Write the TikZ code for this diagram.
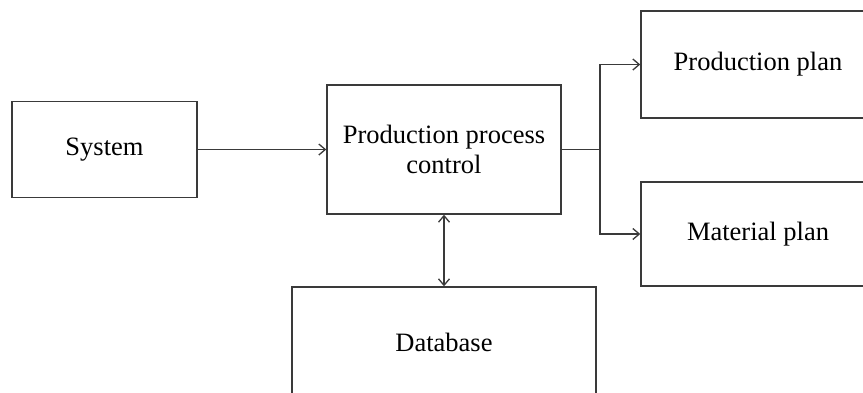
\documentclass[tikz,border=0pt]{standalone}
\usepackage{fontspec}
\setmainfont{Liberation Serif}
\usetikzlibrary{arrows.meta}
\definecolor{edge}{HTML}{3A3A3A}
\tikzset{
  box/.style={draw=edge, line width=1.4pt, fill=white, inner sep=0pt,
              align=center, font=\fontsize{26.5}{30}\selectfont},
  link/.style={draw=edge, line width=1.4pt},
  >={Straight Barb[length=6.5pt,width=11pt,line width=1.3pt]}
}
\begin{document}
\begin{tikzpicture}[x=1pt,y=-1pt]
  \useasboundingbox (0,0) rectangle (863,392);
  \fill[white] (0,0) rectangle (863,392);
  \clip (0,0) rectangle (863,392);

  % blocks
  \node[box, minimum width=185pt, minimum height=96pt]  (sys) at (104.5,149.5) {System};
  \node[box, minimum width=234pt, minimum height=129pt] (ppc) at (444,149.5)   {Production process\\control};
  \node[box, minimum width=234pt, minimum height=107pt] (pp)  at (758,64.5)    {Production plan};
  \node[box, minimum width=234pt, minimum height=104pt] (mp)  at (758,234)     {Material plan};
  \node[box, minimum width=304pt, minimum height=110pt] (db)  at (444,342)     {Database};

  % branch point feeding both plans
  \coordinate (j) at (600,149.5);

  % connectors
  \draw[link,->] (sys.east) -- (ppc.west);
  \draw[link] (ppc.east) -- (j);
  \draw[link,->] (j) |- (pp.west);
  \draw[link,->] (j) |- (mp.west);
  \draw[link,<->] (ppc.south) -- (db.north);
\end{tikzpicture}
\end{document}
